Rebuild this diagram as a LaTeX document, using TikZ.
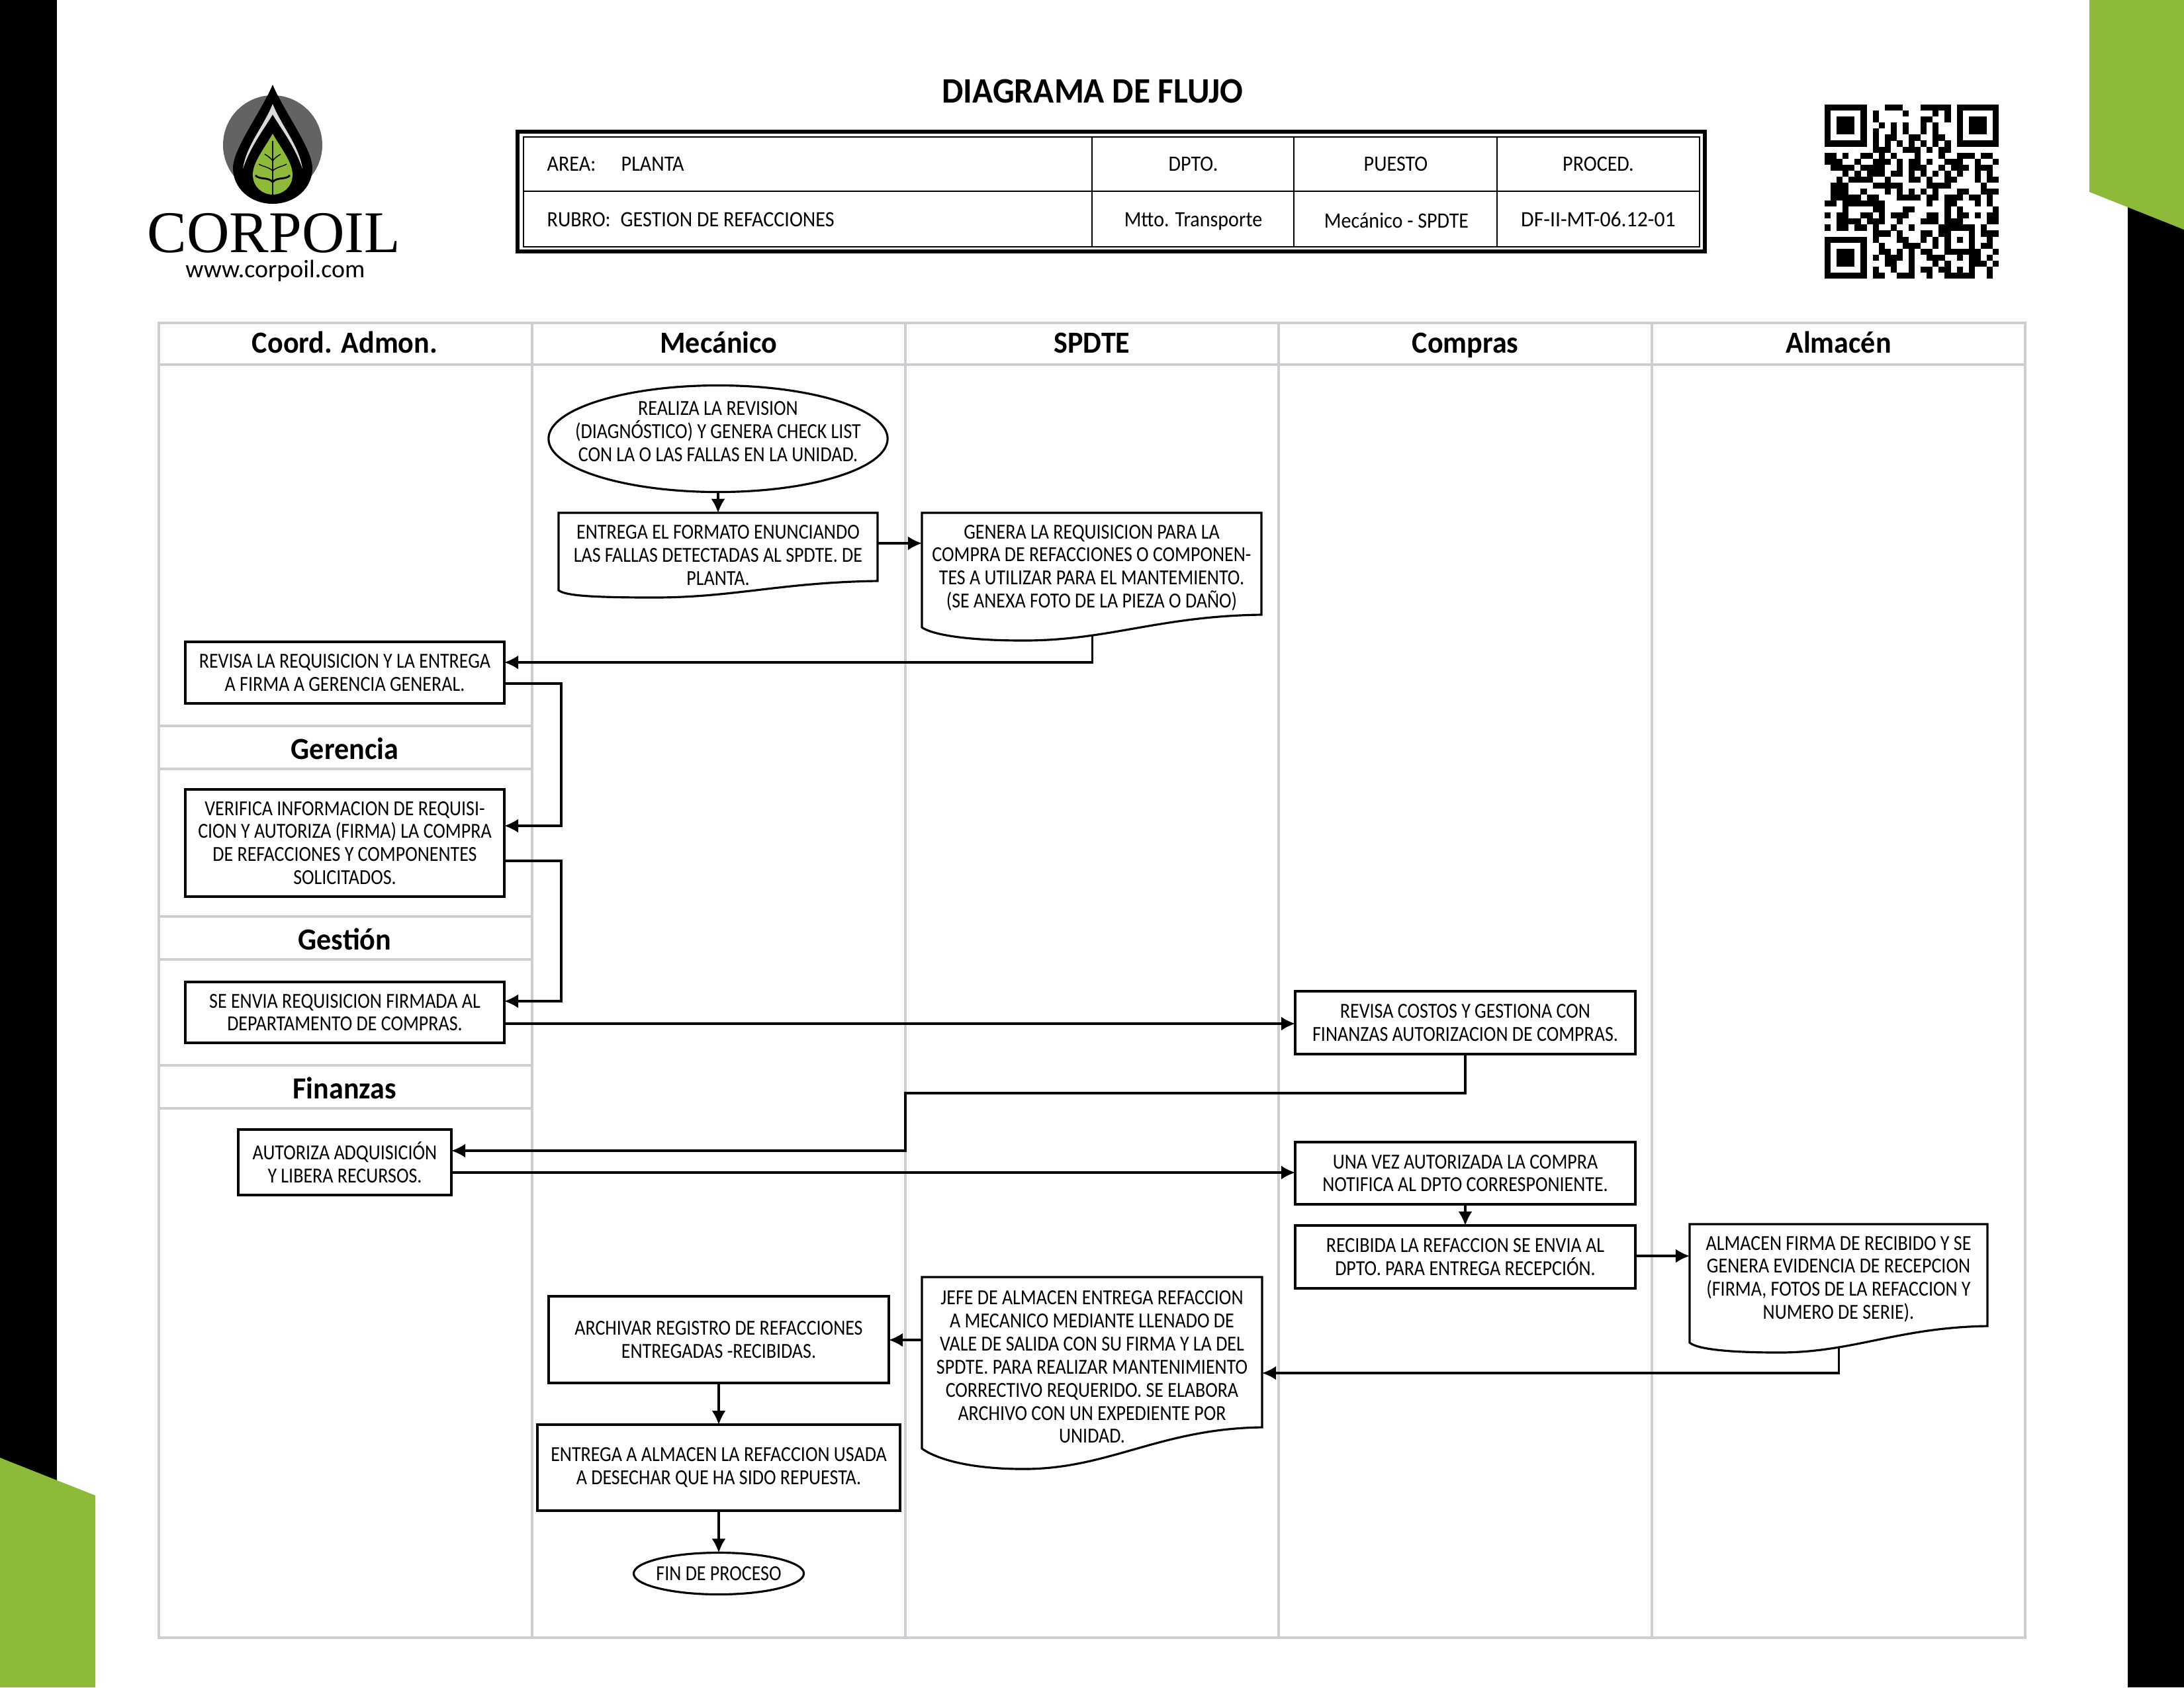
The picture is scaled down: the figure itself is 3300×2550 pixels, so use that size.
\documentclass[tikz,border=0pt]{standalone}
\usepackage{fontspec}
\setmainfont{Carlito}
\newfontfamily\ftflow[FakeStretch=0.865]{Carlito}
\newfontfamily\fttab[FakeStretch=0.91]{Carlito}
\newfontfamily\ftcode[FakeStretch=0.96]{Carlito}
\newfontfamily\fthead[FakeStretch=0.95]{Carlito}
\newfontfamily\ftlogo{Liberation Serif}
\usetikzlibrary{arrows.meta,shapes.geometric}
\definecolor{leafgreen}{HTML}{8DBA38}
\definecolor{lanegrey}{HTML}{CDCED3}
\definecolor{logogrey}{HTML}{626461}
\definecolor{logolight}{HTML}{D9DBDA}
\tikzset{
  lane/.style={draw=lanegrey,line width=1.15pt,line cap=rect},
  lanehead/.style={font=\fthead\bfseries\fontsize{13.2}{15}\selectfont,inner sep=0pt,anchor=base},
  flowtxt/.style={font=\ftflow\fontsize{9.2}{9.9}\selectfont,align=center,inner sep=0pt,outer sep=0pt},
  boxn/.style={flowtxt,draw=black,line width=0.9pt,rectangle},
  docbox/.style={rectangle,inner sep=0pt,outer sep=0pt},
  doclinef/.style={draw=black,line width=0.9pt,line join=miter},
  ovaln/.style={draw=black,line width=0.9pt,ellipse,inner sep=0pt,outer sep=0pt},
  flow/.style={draw=black,line width=0.9pt,-{Latex[length=6pt,width=6pt]}},
  tabtxt/.style={font=\fttab\fontsize{9.4}{11}\selectfont,inner sep=0pt,anchor=base},
  tabline/.style={draw=black,line width=0.7pt},
}
\newcommand\boxnode[6]{%
  \pgfmathsetmacro\bw{(#3-#2)*0.01}\pgfmathsetmacro\bh{(#5-#4)*0.01}%
  \node[boxn,minimum width=\bw cm,minimum height=\bh cm] (#1) at ({(#2+#3)/2},{(#4+#5)/2}) {#6};}
\newcommand\docnode[9]{%
  \pgfmathsetmacro\dw{(#3-#2)*0.01}\pgfmathsetmacro\dh{(#5-#4)*0.01}\pgfmathsetmacro\wpx{#3-#2}%
  \node[docbox,minimum width=\dw cm,minimum height=\dh cm] (#1) at ({(#2+#3)/2},{(#4+#5)/2}) {};
  \draw[doclinef] (#1.north west) -- (#1.north east) -- (#1.south east)
    .. controls ({#3-0.3*\wpx},{#5+2}) and ({#2+0.55*\wpx},#7) .. coordinate[pos=0.705] (#1-b) ({#2+0.3*\wpx},#7)
    .. controls ({#2+0.1*\wpx},#7) and ({#2+0.02*\wpx},{#6+8}) .. (#2,#6) -- cycle;
  \node[flowtxt] (#1-t) at ({(#2+#3)/2},#8) {#9};}
\newcommand\qrrow[2]{\foreach \qc in {#2}{\fill[black] ({2757+9.07*\qc},{158+9.07*#1}) rectangle +(9.15,9.15);}}
\begin{document}
\begin{tikzpicture}[x=0.01cm,y=-0.01cm]
\useasboundingbox (0,0) rectangle (3300,2550);
% page decoration
\fill[black] (0,0) rectangle (86,2245);
\fill[black] (3215,300) rectangle (3300,2550);
\fill[leafgreen] (0,2203) -- (144,2260) -- (144,2550) -- (0,2550) -- cycle;
\fill[leafgreen] (3157,0) -- (3300,0) -- (3300,347) -- (3157,290) -- cycle;
% logo
\fill[logogrey] (412,219) circle (75);
\fill[black] (412,128) .. controls (430,170) and (472,225) .. (472,254)
  .. controls (472,285) and (445,308) .. (412,308)
  .. controls (379,308) and (352,285) .. (352,254)
  .. controls (352,225) and (394,170) .. (412,128) -- cycle;
\fill[logolight] (412,157) .. controls (425,190) and (452,220) .. (457,255)
  .. controls (445,220) and (425,195) .. (412,173)
  .. controls (399,195) and (379,220) .. (367,255)
  .. controls (372,220) and (399,190) .. (412,157) -- cycle;
\fill[leafgreen] (412,202) .. controls (425,225) and (442,245) .. (442,264)
  .. controls (442,282) and (428,294) .. (412,294)
  .. controls (396,294) and (382,282) .. (382,264)
  .. controls (382,245) and (399,225) .. (412,202) -- cycle;
\draw[black,line width=0.4pt] (412,213) -- (412,240);
\draw[black,line width=0.7pt] (412,240) -- (412,294);
\draw[black,line width=0.4pt] (412,243) .. controls (408,238) and (405,236) .. (400,233);
\draw[black,line width=0.4pt] (412,243) .. controls (416,238) and (419,236) .. (424,233);
\draw[black,line width=0.4pt] (412,258) .. controls (405,252) and (398,252) .. (391,248);
\draw[black,line width=0.4pt] (412,258) .. controls (419,252) and (426,252) .. (433,248);
\draw[black,line width=0.8pt] (412,275) .. controls (405,267) and (392,272) .. (386,265);
\draw[black,line width=0.8pt] (412,275) .. controls (419,267) and (432,272) .. (438,265);
\node[font=\ftlogo\fontsize{25.4}{27}\selectfont,inner sep=0pt,anchor=base] (corpoil) at (414,381) {CORPOIL};
\node[font=\fontsize{10.8}{12}\selectfont,inner sep=0pt,anchor=base] (web) at (416,419) {www.corpoil.com};
% QR code
\qrrow{0}{0,1,2,3,4,5,6,10,11,12,16,17,18,19,20,22,23,24,25,26,27,28}
\qrrow{1}{0,6,8,13,18,20,22,28}
\qrrow{2}{0,2,3,4,6,8,16,17,20,22,24,25,26,28}
\qrrow{3}{0,2,3,4,6,9,11,13,16,18,22,24,25,26,28}
\qrrow{4}{0,2,3,4,6,8,11,13,16,18,22,24,25,26,28}
\qrrow{5}{0,6,8,10,11,14,15,18,19,22,28}
\qrrow{6}{0,1,2,3,4,5,6,8,10,12,14,16,18,20,22,23,24,25,26,27,28}
\qrrow{7}{8,9,10,13,14,15,17,19,20}
\qrrow{8}{0,1,3,6,7,9,11,15,19,22,23,24,26,27}
\qrrow{9}{0,1,2,5,8,9,10,12,14,15,17,20,21,22,25,28}
\qrrow{10}{1,2,3,4,6,7,8,9,12,14,15,16,19,21,22,23,25,26,27}
\qrrow{11}{3,5,7,8,9,11,12,14,16,18,20,22,25,27}
\qrrow{12}{2,4,5,6,7,10,14,15,17,20,21,25,27,28}
\qrrow{13}{1,2,3,8,9,10,11,12,17,18,19,20,26}
\qrrow{14}{1,2,3,6,10,12,14,16,18,22,23,26,27,28}
\qrrow{15}{1,2,3,4,5,7,8,12,13,14,15,17,18,20,21,22,24,25,27}
\qrrow{16}{0,1,3,4,5,6,7,8,9,17,20,21,25,27}
\qrrow{17}{3,8,9,13,14,20,22,28}
\qrrow{18}{0,2,3,6,7,9,11,12,13,17,18,20,22,23,25,27,28}
\qrrow{19}{2,3,4,5,7,8,9,12,16,17,18,20,21,22,27,28}
\qrrow{20}{0,2,3,5,6,8,11,14,19,20,21,22,23,24,26}
\qrrow{21}{8,9,10,12,16,17,19,20,24,26,27,28}
\qrrow{22}{0,1,2,3,4,5,6,8,12,13,16,18,20,22,24,27}
\qrrow{23}{0,6,9,13,14,15,18,20,24,26,27}
\qrrow{24}{0,2,3,4,6,9,10,12,14,16,17,20,21,22,23,24,25,28}
\qrrow{25}{0,2,3,4,6,8,10,11,12,14,17,18,19,22,24,25,27}
\qrrow{26}{0,2,3,4,6,10,11,14,18,20,24,25,26,28}
\qrrow{27}{0,6,8,11,14,16,17,19,20,22,24,27}
\qrrow{28}{0,1,2,3,4,5,6,8,9,12,13,14,17,20,21,22,23,24,27}
% title and table
\node[font=\fthead\bfseries\fontsize{15.4}{18}\selectfont,inner sep=0pt,anchor=base] (title) at (1651,155) {DIAGRAMA DE FLUJO};
\draw[black,line width=1.85pt] (782,199) rectangle (2576,380);
\draw[tabline] (791,207) rectangle (2568,373);
\draw[tabline] (791,289) -- (2568,289);
\draw[tabline] (1650,207) -- (1650,373);
\draw[tabline] (1955,207) -- (1955,373);
\draw[tabline] (2262,207) -- (2262,373);
\node[tabtxt,anchor=base west] (area) at (826,258) {AREA:};
\node[tabtxt,anchor=base west] (planta) at (938,258) {PLANTA};
\node[tabtxt,anchor=base west] (rubro) at (826,342) {RUBRO:};
\node[tabtxt,anchor=base west] (gestionref) at (937,342) {GESTION DE REFACCIONES};
\node[tabtxt] (dpto) at (1803,258) {DPTO.};
\node[tabtxt] (puesto) at (2109,258) {PUESTO};
\node[tabtxt] (proced) at (2415,258) {PROCED.};
\node[tabtxt] (mtto) at (1803,342) {Mtto. Transporte};
\node[tabtxt] (mecsp) at (2110,344) {Mecánico - SPDTE};
\node[tabtxt,font=\ftcode\fontsize{9.4}{11}\selectfont] (dfcode) at (2415,342) {DF-II-MT-06.12-01};
% swimlanes
\draw[lane] (240,488) rectangle (3060,2475);
\draw[lane] (240,551) -- (3060,551);
\foreach \lx in {804,1368,1932,2496} {\draw[lane] (\lx,488) -- (\lx,2475);}
\draw[lane] (240,1097) -- (804,1097);
\draw[lane] (240,1162) -- (804,1162);
\draw[lane] (240,1385) -- (804,1385);
\draw[lane] (240,1450) -- (804,1450);
\draw[lane] (240,1610) -- (804,1610);
\draw[lane] (240,1675) -- (804,1675);
\node[lanehead] (h1) at (521,533) {Coord. Admon.};
\node[lanehead] (h2) at (1086,533) {Mecánico};
\node[lanehead] (h3) at (1650,533) {SPDTE};
\node[lanehead] (h4) at (2214,533) {Compras};
\node[lanehead] (h5) at (2778,533) {Almacén};
\node[lanehead] (h6) at (521,1147) {Gerencia};
\node[lanehead] (h7) at (521,1435) {Gestión};
\node[lanehead] (h8) at (521,1660) {Finanzas};
% nodes
\node[ovaln,minimum width=5.12cm,minimum height=1.61cm] (start) at (1085,663) {};
\node[flowtxt] (startt) at (1085,652) {REALIZA LA REVISION\\(DIAGNÓSTICO) Y GENERA CHECK LIST\\CON LA O LAS FALLAS EN LA UNIDAD.};
\docnode{doca}{844}{1326}{775}{878}{892}{903}{839}{ENTREGA EL FORMATO ENUNCIANDO\\LAS FALLAS DETECTADAS AL SPDTE. DE\\PLANTA.}
\docnode{docb}{1393}{1906}{775}{929}{948}{968}{858}{GENERA LA REQUISICION PARA LA\\COMPRA DE REFACCIONES O COMPONEN-\\TES A UTILIZAR PARA EL MANTEMIENTO.\\(SE ANEXA FOTO DE LA PIEZA O DAÑO)}
\boxnode{revisa}{280}{762}{970}{1063}{REVISA LA REQUISICION Y LA ENTREGA\\A FIRMA A GERENCIA GENERAL.}
\boxnode{verif}{280}{762}{1193}{1355}{VERIFICA INFORMACION DE REQUISI-\\CION Y AUTORIZA (FIRMA) LA COMPRA\\DE REFACCIONES Y COMPONENTES\\SOLICITADOS.}
\boxnode{envia}{280}{762}{1484}{1576}{SE ENVIA REQUISICION FIRMADA AL\\DEPARTAMENTO DE COMPRAS.}
\boxnode{autad}{360}{682}{1707}{1806}{AUTORIZA ADQUISICIÓN\\Y LIBERA RECURSOS.}
\boxnode{costos}{1957}{2471}{1498}{1593}{REVISA COSTOS Y GESTIONA CON\\FINANZAS AUTORIZACION DE COMPRAS.}
\boxnode{notif}{1957}{2471}{1726}{1820}{UNA VEZ AUTORIZADA LA COMPRA\\NOTIFICA AL DPTO CORRESPONIENTE.}
\boxnode{recib}{1957}{2471}{1852}{1947}{RECIBIDA LA REFACCION SE ENVIA AL\\DPTO. PARA ENTREGA RECEPCIÓN.}
\docnode{almac}{2553}{3003}{1850}{2004}{2029}{2044}{1933}{ALMACEN FIRMA DE RECIBIDO Y SE\\GENERA EVIDENCIA DE RECEPCION\\(FIRMA, FOTOS DE LA REFACCION Y\\NUMERO DE SERIE).}
\docnode{jefe}{1393}{1907}{1930}{2157}{2189}{2220}{2066}{JEFE DE ALMACEN ENTREGA REFACCION\\A MECANICO MEDIANTE LLENADO DE\\VALE DE SALIDA CON SU FIRMA Y LA DEL\\SPDTE. PARA REALIZAR MANTENIMIENTO\\CORRECTIVO REQUERIDO. SE ELABORA\\ARCHIVO CON UN EXPEDIENTE POR\\UNIDAD.}
\boxnode{archiv}{829}{1343}{1959}{2090}{ARCHIVAR REGISTRO DE REFACCIONES\\ENTREGADAS -RECIBIDAS.}
\boxnode{ental}{812}{1360}{2153}{2283}{ENTREGA A ALMACEN LA REFACCION USADA\\A DESECHAR QUE HA SIDO REPUESTA.}
\node[ovaln,minimum width=2.57cm,minimum height=0.63cm] (fin) at (1086,2378) {};
\node[flowtxt] (fint) at (1086,2378) {FIN DE PROCESO};
% connector attachment points
\coordinate (p1o) at (1326,821);
\coordinate (p1i) at (1393,821);
\coordinate (p2) at (762,1001);
\coordinate (p3o) at (762,1033);
\coordinate (p3i) at (762,1248);
\coordinate (p4o) at (762,1301);
\coordinate (p4i) at (762,1513);
\coordinate (k1) at (848,1033);
\coordinate (k2) at (848,1301);
\coordinate (p5o) at (762,1547);
\coordinate (p5i) at (1957,1547);
\coordinate (k3) at (2214,1652);
\coordinate (k4) at (1368,1652);
\coordinate (k5) at (1368,1739);
\coordinate (p6i) at (682,1739);
\coordinate (p7o) at (682,1772);
\coordinate (p7i) at (1957,1772);
\coordinate (p8o) at (2471,1898);
\coordinate (p8i) at (2553,1898);
\coordinate (p9) at (1907,2075);
\coordinate (p10o) at (1393,2025);
\coordinate (p10i) at (1343,2025);
% connectors
\draw[flow] (start.south) -- (doca.north);
\draw[flow] (p1o) -- (p1i);
\draw[flow] (docb-b) |- (p2);
\draw[flow] (p3o) -- (k1) |- (p3i);
\draw[flow] (p4o) -- (k2) |- (p4i);
\draw[flow] (p5o) -- (p5i);
\draw[flow] (costos.south) -- (k3) -- (k4) -- (k5) -- (p6i);
\draw[flow] (p7o) -- (p7i);
\draw[flow] (notif.south) -- (recib.north);
\draw[flow] (p8o) -- (p8i);
\draw[flow] (almac-b) |- (p9);
\draw[flow] (p10o) -- (p10i);
\draw[flow] (archiv.south) -- (ental.north);
\draw[flow] (ental.south) -- (fin.north);
\end{tikzpicture}
\end{document}
